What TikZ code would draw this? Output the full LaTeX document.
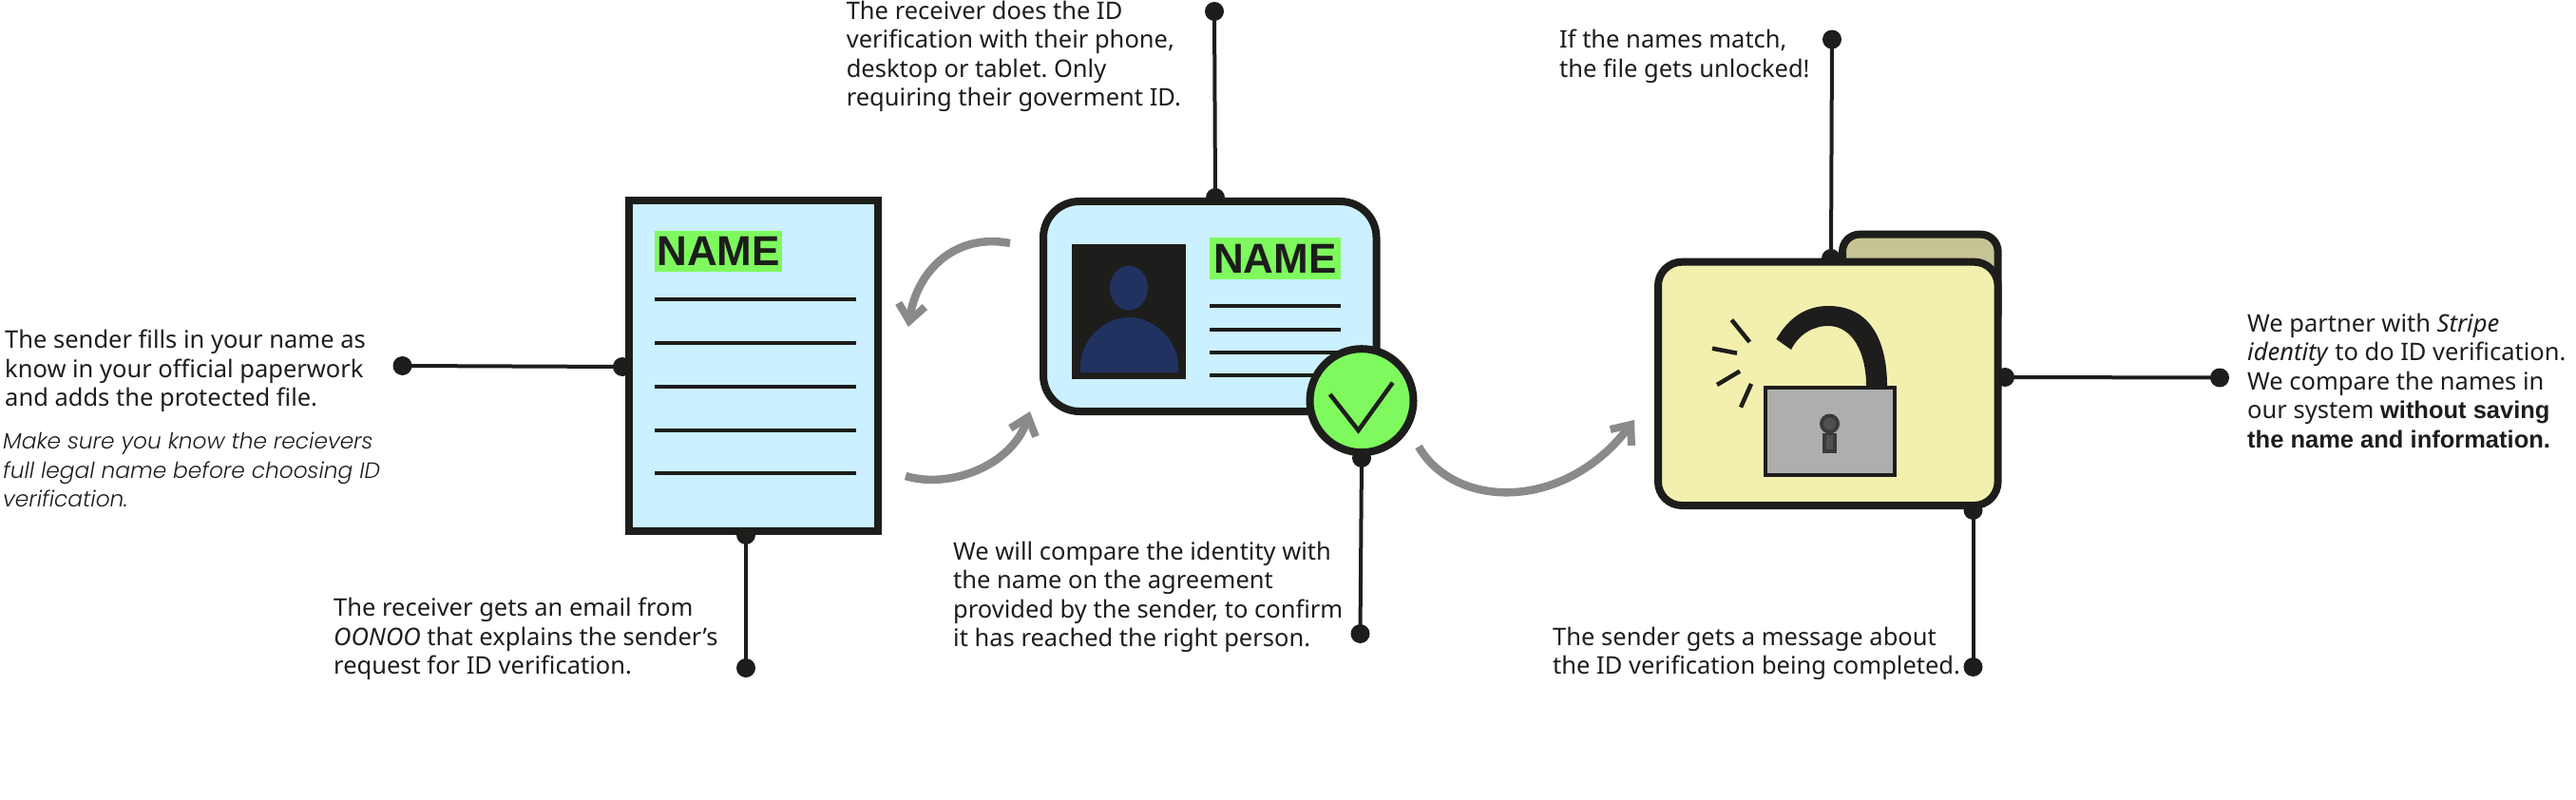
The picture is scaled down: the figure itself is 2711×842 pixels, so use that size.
\documentclass[tikz,border=0pt]{standalone}
\usepackage{fontspec}
\usetikzlibrary{arrows.meta,shapes.geometric}
\setmainfont{Noto Sans}[BoldFont={Liberation Sans Bold}]
\newfontfamily\lightit{Poppins Light Italic}
\frenchspacing
\definecolor{ink}{HTML}{1D1D1B}
\definecolor{paper}{HTML}{CBF0FF}
\definecolor{hl}{HTML}{7EF95E}
\definecolor{flow}{HTML}{8A8A8A}
\definecolor{folderf}{HTML}{F3F0AF}
\definecolor{foldert}{HTML}{C5C495}
\definecolor{lockc}{HTML}{AEAEAC}
\definecolor{navy}{HTML}{203360}
\tikzset{
 x=1pt,y=-1pt,
 note/.style={anchor=north west,inner sep=0pt,align=left,text=ink,font=\fontsize{25.5}{30.4}\selectfont},
 dot/.style={circle,fill=ink,draw=none,minimum size=20pt,inner sep=0pt},
 lead/.style={draw=ink,line width=4pt},
 textline/.style={draw=ink,line width=4.5pt},
 box/.style={draw=ink,line width=8pt,inner sep=0pt},
 flowline/.style={draw=flow,line width=8.5pt,-{Straight Barb[length=17pt,width=28pt,line width=8pt]}},
 namelabel/.style={fill=hl,inner sep=0pt,text=ink,font=\fontsize{44}{44}\selectfont\bfseries},
 ray/.style={draw=ink,line width=4.5pt},
}
\begin{document}
\begin{tikzpicture}
\useasboundingbox (0,0) rectangle (2711,842);
% leader dots
\node[dot] (s1) at (423.5,385) {};
\node[dot] (e1) at (655,386) {};
\node[dot] (s2) at (785,703) {};
\node[dot] (e2) at (785,563) {};
\node[dot] (s3) at (1278,12) {};
\node[dot] (e3) at (1279,208) {};
\node[dot] (s4) at (1431.5,667) {};
\node[dot] (e4) at (1433,482) {};
\node[dot] (s5) at (1928,41.5) {};
\node[dot] (e5) at (1927,272) {};
\node[dot] (s6) at (2336,397.5) {};
\node[dot] (e6) at (2110,397) {};
\node[dot] (s7) at (2076.5,702) {};
\node[dot] (e7) at (2076.5,537) {};
\foreach \i in {1,...,7} \draw[lead] (s\i.center) -- (e\i.center);
% document
\node[box,fill=paper,minimum width=262pt,minimum height=348pt] (doc) at (793,385) {};
\node[namelabel,minimum width=134pt,minimum height=43pt] (docname) at (756,264.5) {NAME};
\foreach \y in {315,361,407,453,498} \draw[textline] (689,\y) -- (901,\y);
% id card
\node[box,fill=paper,rounded corners=38pt,minimum width=350.5pt,minimum height=221pt] (card) at (1273.25,322.5) {};
\node[fill=ink,inner sep=0pt,minimum width=119.5pt,minimum height=142pt] (photo) at (1187.75,328) {};
\fill[navy] (1188,303) ellipse [x radius=20,y radius=23.5];
\fill[navy] (1137,392) -- (1137,385) .. controls (1137,360) and (1160,334) .. (1188,334) .. controls (1216,334) and (1240,360) .. (1240,385) -- (1240,392) -- cycle;
\node[namelabel,minimum width=137.6pt,minimum height=44pt] (cardname) at (1341.8,272) {NAME};
\foreach \y in {322,347,371,395} \draw[textline] (1273,\y) -- (1410.6,\y);
\node[circle,draw=ink,fill=hl,line width=8pt,inner sep=0pt,minimum size=109pt] (check) at (1433,421.7) {};
\draw[ink,line width=4.5pt,miter limit=10] (1399.7,415) -- (1429.5,453) -- (1465.7,402.7);
% folder
\node[box,fill=foldert,rounded corners=18pt,minimum width=163.6pt,minimum height=100pt,anchor=north west] (tab) at (1935,242.7) {};
\node[box,fill=folderf,rounded corners=25pt,minimum width=357.6pt,minimum height=256.3pt] (folder) at (1923.8,403.85) {};
% lock
\fill[ink] (1986,406) .. controls (1986,370) and (1975,322) .. (1924,322) .. controls (1900,322) and (1882,335) .. (1869.4,357) -- (1885,368) .. controls (1893,352) and (1908,343) .. (1924,343) .. controls (1950,343) and (1964,372) .. (1964,406) -- cycle;
\node[draw=ink,fill=lockc,line width=4.5pt,inner sep=0pt,minimum width=136pt,minimum height=92pt] (lock) at (1925.8,453.8) {};
\fill[ink!80!lockc] (1918,456) rectangle (1933,477);
\fill[ink!80!lockc] (1925.5,446) circle [radius=10.5];
\fill[ink!65!lockc] (1925.5,446) circle [radius=6.5];
\fill[ink!65!lockc] (1922,458) rectangle (1929,473);
\draw[ray] (1822.4,336.7) -- (1841.3,360);
\draw[ray] (1802,366.7) -- (1828,371.7);
\draw[ray] (1831,390.7) -- (1807,405);
\draw[ray] (1843,404) -- (1832,428.7);
% flows
\coordinate (a1) at (1063,256); \coordinate (a2) at (956,344);
\coordinate (b1) at (953,501); \coordinate (b2) at (1084,433);
\coordinate (c1) at (1493,470); \coordinate (c2) at (1720,442);
\draw[flowline] (a1) .. controls (1005,245) and (965,285) .. (a2);
\draw[flowline] (b1) .. controls (1000,515) and (1065,490) .. (b2);
\draw[flowline] (c1) .. controls (1530,535) and (1645,540) .. (c2);
% texts
\node[note] (t1) at (5,347) {The sender fills in your name as\\know in your official paperwork\\and adds the protected file.};
\node[note,font=\fontsize{23.3}{30.4}\lightit] (t1b) at (3,455) {Make sure you know the recievers\\full legal name before choosing ID\\verification.};
\node[note] (t2) at (351,629) {The receiver gets an email from\\\textit{OONOO} that explains the sender's\\request for ID verification.};
\node[note] (t3) at (890.6,1) {The receiver does the ID\\verification with their phone,\\desktop or tablet. Only\\requiring their goverment ID.};
\node[note] (t4) at (1003,570) {We will compare the identity with\\the name on the agreement\\provided by the sender, to confirm\\it has reached the right person.};
\node[note] (t5) at (1641,31) {If the names match,\\the file gets unlocked!};
\node[note] (t6) at (1634,660) {The sender gets a message about\\the ID verification being completed.};
\node[note] (t7) at (2365,330) {We partner with \textit{Stripe}\\\textit{identity} to do ID verification.\\We compare the names in\\our system \textbf{without saving}\\\textbf{the name and information.}};
\end{tikzpicture}
\end{document}
